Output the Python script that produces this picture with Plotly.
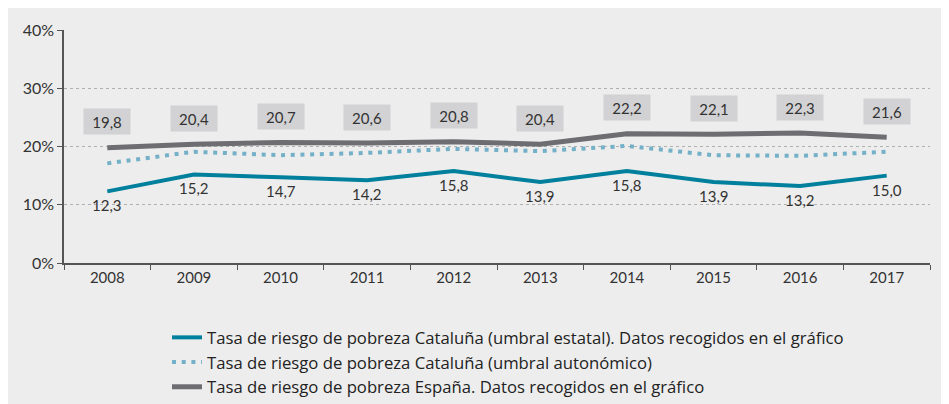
import plotly.graph_objects as go

# --- data ---
years = ["2008", "2009", "2010", "2011", "2012", "2013", "2014", "2015", "2016", "2017"]
cat_estatal = [12.3, 15.2, 14.7, 14.2, 15.8, 13.9, 15.8, 13.9, 13.2, 15.0]
cat_autonomico = [17.1, 19.1, 18.5, 18.9, 19.6, 19.2, 20.1, 18.5, 18.4, 19.1]
espana = [19.8, 20.4, 20.7, 20.6, 20.8, 20.4, 22.2, 22.1, 22.3, 21.6]

names = [
    "Tasa de riesgo de pobreza Cataluña (umbral estatal). Datos recogidos en el gráfico",
    "Tasa de riesgo de pobreza Cataluña (umbral autonómico)",
    "Tasa de riesgo de pobreza España. Datos recogidos en el gráfico",
]

TEAL = "#00809c"
DOTS = "#74b0c8"
GREY = "#6d6d72"
BG = "#ededed"
TXT = "#333333"
FONT = "Lato, 'Noto Sans', sans-serif"


def fmt(v):
    return f"{v:.1f}".replace(".", ",")


fig = go.Figure()
fig.add_trace(go.Scatter(x=years, y=cat_estatal, mode="lines", name=names[0],
                         line=dict(color=TEAL, width=4)))
fig.add_trace(go.Scatter(x=years, y=cat_autonomico, mode="lines", name=names[1],
                         line=dict(color=DOTS, width=4, dash="4px,5.7px")))
fig.add_trace(go.Scatter(x=years, y=espana, mode="lines", name=names[2],
                         line=dict(color=GREY, width=5)))

# category axis: annotations placed by category index
annotations = []
for i, v in enumerate(cat_estatal):
    annotations.append(dict(x=i, y=v, text=fmt(v), showarrow=False, yshift=-14,
                            font=dict(size=15, color=TXT, family=FONT)))
for i, v in enumerate(espana):
    annotations.append(dict(x=i, y=v, text=fmt(v), showarrow=False, yshift=26,
                            width=44, height=23, bgcolor="#d2d2d4",
                            font=dict(size=15, color=TXT, family=FONT)))

# page body adds an 8px white margin; figure is sized to fill the rest
W, H = 941, 396
l, r, t, b = 56, 19, 22, 141

fig.update_layout(
    width=W, height=H,
    margin=dict(l=l, r=r, t=t, b=b, autoexpand=False),
    paper_bgcolor=BG, plot_bgcolor=BG,
    font=dict(family=FONT, color=TXT, size=13),
    showlegend=True,
    legend=dict(orientation="v", xref="container", yref="container",
                x=(167 - 8) / W, xanchor="left", y=1 - (320 - 8) / H, yanchor="top",
                font=dict(size=16.7, color="#222222", family="'Open Sans', sans-serif"),
                bgcolor="rgba(0,0,0,0)", tracegroupgap=0, itemwidth=30),
    annotations=annotations,
)
fig.update_xaxes(type="category", tickson="boundaries", ticks="outside", ticklen=5,
                 tickcolor="#555555", showline=True, linecolor="#555555", linewidth=1.5,
                 showgrid=False, tickfont=dict(size=15, color=TXT), range=[-0.5, 9.5])
fig.update_yaxes(range=[0, 40], tickvals=[0, 10, 20, 30, 40],
                 ticktext=["0%", "10%", "20%", "30%", "40%"],
                 ticks="outside", ticklen=5, tickcolor="#555555",
                 showline=True, linecolor="#555555", linewidth=1.5,
                 showgrid=True, gridcolor="#b0b0b0", griddash="dot", gridwidth=1,
                 zeroline=False, tickfont=dict(size=16, color=TXT))

fig.write_html("out.html")
